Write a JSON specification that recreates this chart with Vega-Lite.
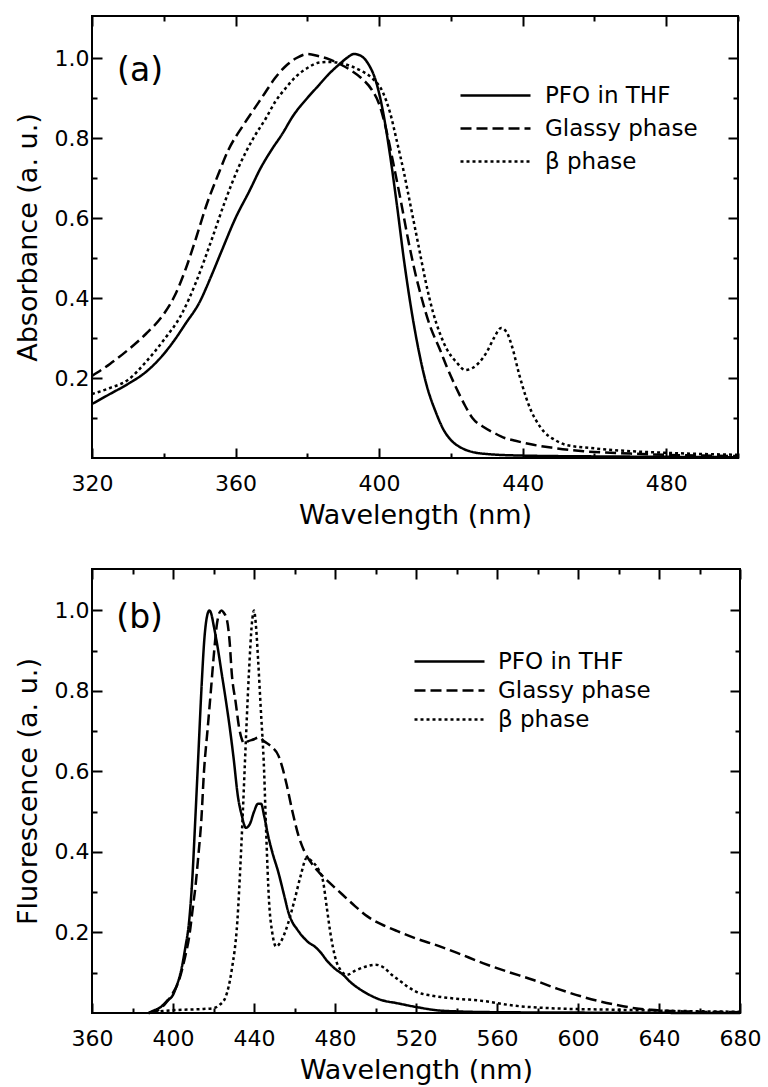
{
  "$schema": "https://vega.github.io/schema/vega-lite/v6.json",
  "padding": {"left": 13, "top": 14, "right": 5, "bottom": 2},
  "background": "white",
  "config": {
    "font": "DejaVu Sans",
    "view": {"stroke": "black", "strokeWidth": 2},
    "axis": {
      "domain": false, "grid": false, "zindex": 1,
      "labelFont": "DejaVu Sans", "labelFontSize": 22, "labelColor": "black",
      "titleFont": "DejaVu Sans", "titleFontSize": 27, "titleFontWeight": "normal", "titleColor": "black",
      "tickColor": "black", "tickWidth": 2, "tickSize": -10, "labelFlush": false, "labelOverlap": false
    },
    "legend": {
      "labelFont": "DejaVu Sans", "labelFontSize": 23, "labelColor": "black",
      "symbolType": "stroke", "symbolSize": 4900, "symbolStrokeWidth": 2.4, "symbolStrokeColor": "black",
      "clipHeight": 23
    }
  },
  "datasets": {
    "abs": [
      {"s":"PFO in THF","wl":320,"v":0.135},{"s":"PFO in THF","wl":325,"v":0.16},{"s":"PFO in THF","wl":330,"v":0.185},{"s":"PFO in THF","wl":335,"v":0.215},{"s":"PFO in THF","wl":340,"v":0.26},{"s":"PFO in THF","wl":343,"v":0.295},{"s":"PFO in THF","wl":346,"v":0.335},{"s":"PFO in THF","wl":350,"v":0.39},{"s":"PFO in THF","wl":353,"v":0.45},{"s":"PFO in THF","wl":356,"v":0.515},{"s":"PFO in THF","wl":360,"v":0.6},{"s":"PFO in THF","wl":364,"v":0.67},{"s":"PFO in THF","wl":367,"v":0.725},{"s":"PFO in THF","wl":370,"v":0.77},{"s":"PFO in THF","wl":373,"v":0.81},{"s":"PFO in THF","wl":376,"v":0.855},{"s":"PFO in THF","wl":380,"v":0.9},{"s":"PFO in THF","wl":383,"v":0.93},{"s":"PFO in THF","wl":386,"v":0.96},{"s":"PFO in THF","wl":389,"v":0.985},{"s":"PFO in THF","wl":391,"v":1.0},{"s":"PFO in THF","wl":393,"v":1.01},{"s":"PFO in THF","wl":395,"v":1.005},{"s":"PFO in THF","wl":397,"v":0.985},{"s":"PFO in THF","wl":399,"v":0.945},{"s":"PFO in THF","wl":401,"v":0.87},{"s":"PFO in THF","wl":403,"v":0.76},{"s":"PFO in THF","wl":405,"v":0.63},{"s":"PFO in THF","wl":407,"v":0.49},{"s":"PFO in THF","wl":409,"v":0.37},{"s":"PFO in THF","wl":411,"v":0.27},{"s":"PFO in THF","wl":413,"v":0.19},{"s":"PFO in THF","wl":416,"v":0.11},{"s":"PFO in THF","wl":418,"v":0.07},{"s":"PFO in THF","wl":420,"v":0.045},{"s":"PFO in THF","wl":423,"v":0.025},{"s":"PFO in THF","wl":426,"v":0.015},{"s":"PFO in THF","wl":430,"v":0.01},{"s":"PFO in THF","wl":440,"v":0.006},{"s":"PFO in THF","wl":460,"v":0.004},{"s":"PFO in THF","wl":480,"v":0.003},{"s":"PFO in THF","wl":500,"v":0.002},
      {"s":"Glassy phase","wl":320,"v":0.205},{"s":"Glassy phase","wl":325,"v":0.235},{"s":"Glassy phase","wl":330,"v":0.27},{"s":"Glassy phase","wl":335,"v":0.31},{"s":"Glassy phase","wl":340,"v":0.36},{"s":"Glassy phase","wl":343,"v":0.405},{"s":"Glassy phase","wl":346,"v":0.47},{"s":"Glassy phase","wl":349,"v":0.55},{"s":"Glassy phase","wl":352,"v":0.635},{"s":"Glassy phase","wl":355,"v":0.705},{"s":"Glassy phase","wl":358,"v":0.77},{"s":"Glassy phase","wl":362,"v":0.83},{"s":"Glassy phase","wl":365,"v":0.87},{"s":"Glassy phase","wl":368,"v":0.91},{"s":"Glassy phase","wl":371,"v":0.95},{"s":"Glassy phase","wl":374,"v":0.98},{"s":"Glassy phase","wl":377,"v":1.0},{"s":"Glassy phase","wl":380,"v":1.01},{"s":"Glassy phase","wl":383,"v":1.005},{"s":"Glassy phase","wl":386,"v":0.997},{"s":"Glassy phase","wl":389,"v":0.985},{"s":"Glassy phase","wl":392,"v":0.97},{"s":"Glassy phase","wl":395,"v":0.95},{"s":"Glassy phase","wl":398,"v":0.92},{"s":"Glassy phase","wl":400,"v":0.885},{"s":"Glassy phase","wl":402,"v":0.82},{"s":"Glassy phase","wl":404,"v":0.735},{"s":"Glassy phase","wl":406,"v":0.645},{"s":"Glassy phase","wl":408,"v":0.55},{"s":"Glassy phase","wl":410,"v":0.465},{"s":"Glassy phase","wl":412,"v":0.395},{"s":"Glassy phase","wl":414,"v":0.335},{"s":"Glassy phase","wl":417,"v":0.27},{"s":"Glassy phase","wl":419,"v":0.225},{"s":"Glassy phase","wl":421.5,"v":0.175},{"s":"Glassy phase","wl":424,"v":0.13},{"s":"Glassy phase","wl":426,"v":0.1},{"s":"Glassy phase","wl":429,"v":0.078},{"s":"Glassy phase","wl":432,"v":0.063},{"s":"Glassy phase","wl":435,"v":0.05},{"s":"Glassy phase","wl":438,"v":0.043},{"s":"Glassy phase","wl":443,"v":0.033},{"s":"Glassy phase","wl":448,"v":0.026},{"s":"Glassy phase","wl":457,"v":0.017},{"s":"Glassy phase","wl":470,"v":0.011},{"s":"Glassy phase","wl":480,"v":0.008},{"s":"Glassy phase","wl":490,"v":0.006},{"s":"Glassy phase","wl":500,"v":0.005},
      {"s":"β phase","wl":320,"v":0.16},{"s":"β phase","wl":325,"v":0.175},{"s":"β phase","wl":330,"v":0.195},{"s":"β phase","wl":335,"v":0.24},{"s":"β phase","wl":340,"v":0.295},{"s":"β phase","wl":345,"v":0.36},{"s":"β phase","wl":349,"v":0.44},{"s":"β phase","wl":353.5,"v":0.55},{"s":"β phase","wl":357,"v":0.64},{"s":"β phase","wl":361,"v":0.73},{"s":"β phase","wl":365,"v":0.8},{"s":"β phase","wl":368.5,"v":0.85},{"s":"β phase","wl":371,"v":0.89},{"s":"β phase","wl":374,"v":0.925},{"s":"β phase","wl":377,"v":0.955},{"s":"β phase","wl":380,"v":0.975},{"s":"β phase","wl":383,"v":0.988},{"s":"β phase","wl":386,"v":0.99},{"s":"β phase","wl":389,"v":0.988},{"s":"β phase","wl":392,"v":0.98},{"s":"β phase","wl":395,"v":0.968},{"s":"β phase","wl":398,"v":0.95},{"s":"β phase","wl":401,"v":0.915},{"s":"β phase","wl":403,"v":0.865},{"s":"β phase","wl":405,"v":0.79},{"s":"β phase","wl":407,"v":0.71},{"s":"β phase","wl":409,"v":0.62},{"s":"β phase","wl":411,"v":0.53},{"s":"β phase","wl":413,"v":0.44},{"s":"β phase","wl":415,"v":0.365},{"s":"β phase","wl":417,"v":0.31},{"s":"β phase","wl":419,"v":0.27},{"s":"β phase","wl":421.5,"v":0.24},{"s":"β phase","wl":424,"v":0.22},{"s":"β phase","wl":426,"v":0.225},{"s":"β phase","wl":428,"v":0.24},{"s":"β phase","wl":430,"v":0.265},{"s":"β phase","wl":432,"v":0.3},{"s":"β phase","wl":434,"v":0.325},{"s":"β phase","wl":435.5,"v":0.315},{"s":"β phase","wl":437,"v":0.28},{"s":"β phase","wl":439,"v":0.21},{"s":"β phase","wl":441,"v":0.15},{"s":"β phase","wl":442.5,"v":0.115},{"s":"β phase","wl":444,"v":0.09},{"s":"β phase","wl":446,"v":0.065},{"s":"β phase","wl":449,"v":0.045},{"s":"β phase","wl":452,"v":0.033},{"s":"β phase","wl":459,"v":0.025},{"s":"β phase","wl":470,"v":0.017},{"s":"β phase","wl":480,"v":0.013},{"s":"β phase","wl":490,"v":0.01},{"s":"β phase","wl":500,"v":0.008}
    ],
    "fluo": [
      {"s":"PFO in THF","wl":388,"v":0.0},{"s":"PFO in THF","wl":390,"v":0.005},{"s":"PFO in THF","wl":394,"v":0.015},{"s":"PFO in THF","wl":397,"v":0.03},{"s":"PFO in THF","wl":400,"v":0.045},{"s":"PFO in THF","wl":402,"v":0.07},{"s":"PFO in THF","wl":404,"v":0.105},{"s":"PFO in THF","wl":406,"v":0.16},{"s":"PFO in THF","wl":408,"v":0.23},{"s":"PFO in THF","wl":409.5,"v":0.33},{"s":"PFO in THF","wl":411,"v":0.48},{"s":"PFO in THF","wl":412.5,"v":0.64},{"s":"PFO in THF","wl":414,"v":0.8},{"s":"PFO in THF","wl":415.5,"v":0.93},{"s":"PFO in THF","wl":417,"v":0.99},{"s":"PFO in THF","wl":418,"v":1.0},{"s":"PFO in THF","wl":419,"v":0.99},{"s":"PFO in THF","wl":420,"v":0.965},{"s":"PFO in THF","wl":422,"v":0.91},{"s":"PFO in THF","wl":424,"v":0.845},{"s":"PFO in THF","wl":426,"v":0.78},{"s":"PFO in THF","wl":428,"v":0.71},{"s":"PFO in THF","wl":430,"v":0.63},{"s":"PFO in THF","wl":432,"v":0.54},{"s":"PFO in THF","wl":434,"v":0.49},{"s":"PFO in THF","wl":436,"v":0.46},{"s":"PFO in THF","wl":438,"v":0.47},{"s":"PFO in THF","wl":440,"v":0.5},{"s":"PFO in THF","wl":442,"v":0.52},{"s":"PFO in THF","wl":443.5,"v":0.52},{"s":"PFO in THF","wl":445,"v":0.49},{"s":"PFO in THF","wl":447,"v":0.44},{"s":"PFO in THF","wl":449,"v":0.4},{"s":"PFO in THF","wl":452,"v":0.35},{"s":"PFO in THF","wl":455,"v":0.29},{"s":"PFO in THF","wl":457,"v":0.25},{"s":"PFO in THF","wl":459,"v":0.225},{"s":"PFO in THF","wl":461,"v":0.21},{"s":"PFO in THF","wl":464,"v":0.19},{"s":"PFO in THF","wl":467,"v":0.175},{"s":"PFO in THF","wl":470,"v":0.165},{"s":"PFO in THF","wl":473,"v":0.15},{"s":"PFO in THF","wl":476,"v":0.13},{"s":"PFO in THF","wl":480,"v":0.11},{"s":"PFO in THF","wl":484,"v":0.095},{"s":"PFO in THF","wl":488,"v":0.075},{"s":"PFO in THF","wl":492,"v":0.06},{"s":"PFO in THF","wl":497,"v":0.045},{"s":"PFO in THF","wl":503,"v":0.032},{"s":"PFO in THF","wl":510,"v":0.025},{"s":"PFO in THF","wl":520,"v":0.015},{"s":"PFO in THF","wl":530,"v":0.007},{"s":"PFO in THF","wl":540,"v":0.004},{"s":"PFO in THF","wl":560,"v":0.002},{"s":"PFO in THF","wl":600,"v":0.001},{"s":"PFO in THF","wl":680,"v":0.0},
      {"s":"Glassy phase","wl":388,"v":0.0},{"s":"Glassy phase","wl":392,"v":0.005},{"s":"Glassy phase","wl":396.5,"v":0.025},{"s":"Glassy phase","wl":400,"v":0.05},{"s":"Glassy phase","wl":403,"v":0.082},{"s":"Glassy phase","wl":406,"v":0.14},{"s":"Glassy phase","wl":408,"v":0.19},{"s":"Glassy phase","wl":410,"v":0.27},{"s":"Glassy phase","wl":411,"v":0.31},{"s":"Glassy phase","wl":412.5,"v":0.39},{"s":"Glassy phase","wl":414,"v":0.48},{"s":"Glassy phase","wl":415.3,"v":0.6},{"s":"Glassy phase","wl":417,"v":0.7},{"s":"Glassy phase","wl":418.7,"v":0.8},{"s":"Glassy phase","wl":420,"v":0.88},{"s":"Glassy phase","wl":421.8,"v":0.97},{"s":"Glassy phase","wl":423,"v":0.995},{"s":"Glassy phase","wl":424,"v":1.0},{"s":"Glassy phase","wl":425,"v":0.995},{"s":"Glassy phase","wl":426.7,"v":0.975},{"s":"Glassy phase","wl":428,"v":0.92},{"s":"Glassy phase","wl":429,"v":0.845},{"s":"Glassy phase","wl":431,"v":0.77},{"s":"Glassy phase","wl":432.6,"v":0.71},{"s":"Glassy phase","wl":434,"v":0.68},{"s":"Glassy phase","wl":435,"v":0.67},{"s":"Glassy phase","wl":437,"v":0.675},{"s":"Glassy phase","wl":440,"v":0.68},{"s":"Glassy phase","wl":442.5,"v":0.685},{"s":"Glassy phase","wl":445,"v":0.675},{"s":"Glassy phase","wl":449,"v":0.66},{"s":"Glassy phase","wl":452,"v":0.64},{"s":"Glassy phase","wl":454,"v":0.61},{"s":"Glassy phase","wl":456,"v":0.57},{"s":"Glassy phase","wl":459,"v":0.5},{"s":"Glassy phase","wl":462,"v":0.44},{"s":"Glassy phase","wl":465,"v":0.4},{"s":"Glassy phase","wl":468,"v":0.375},{"s":"Glassy phase","wl":472,"v":0.35},{"s":"Glassy phase","wl":477,"v":0.325},{"s":"Glassy phase","wl":483.5,"v":0.295},{"s":"Glassy phase","wl":490,"v":0.265},{"s":"Glassy phase","wl":496,"v":0.24},{"s":"Glassy phase","wl":503,"v":0.22},{"s":"Glassy phase","wl":510,"v":0.205},{"s":"Glassy phase","wl":520,"v":0.185},{"s":"Glassy phase","wl":528,"v":0.172},{"s":"Glassy phase","wl":540,"v":0.15},{"s":"Glassy phase","wl":553,"v":0.124},{"s":"Glassy phase","wl":565,"v":0.103},{"s":"Glassy phase","wl":578,"v":0.082},{"s":"Glassy phase","wl":590,"v":0.06},{"s":"Glassy phase","wl":602.5,"v":0.04},{"s":"Glassy phase","wl":610,"v":0.03},{"s":"Glassy phase","wl":619,"v":0.02},{"s":"Glassy phase","wl":628,"v":0.012},{"s":"Glassy phase","wl":636,"v":0.008},{"s":"Glassy phase","wl":652,"v":0.004},{"s":"Glassy phase","wl":680,"v":0.002},
      {"s":"β phase","wl":388,"v":0.0},{"s":"β phase","wl":395,"v":0.005},{"s":"β phase","wl":405,"v":0.008},{"s":"β phase","wl":415,"v":0.01},{"s":"β phase","wl":420,"v":0.012},{"s":"β phase","wl":423,"v":0.02},{"s":"β phase","wl":426,"v":0.04},{"s":"β phase","wl":429,"v":0.107},{"s":"β phase","wl":431.8,"v":0.23},{"s":"β phase","wl":433.6,"v":0.4},{"s":"β phase","wl":434.5,"v":0.5},{"s":"β phase","wl":435.5,"v":0.62},{"s":"β phase","wl":437.5,"v":0.845},{"s":"β phase","wl":439,"v":0.97},{"s":"β phase","wl":440,"v":1.0},{"s":"β phase","wl":441,"v":0.96},{"s":"β phase","wl":442,"v":0.88},{"s":"β phase","wl":443.3,"v":0.76},{"s":"β phase","wl":445,"v":0.6},{"s":"β phase","wl":446,"v":0.45},{"s":"β phase","wl":447.4,"v":0.28},{"s":"β phase","wl":449,"v":0.2},{"s":"β phase","wl":451,"v":0.165},{"s":"β phase","wl":453,"v":0.175},{"s":"β phase","wl":456,"v":0.21},{"s":"β phase","wl":460,"v":0.28},{"s":"β phase","wl":463,"v":0.34},{"s":"β phase","wl":466,"v":0.385},{"s":"β phase","wl":469,"v":0.375},{"s":"β phase","wl":472,"v":0.355},{"s":"β phase","wl":474,"v":0.33},{"s":"β phase","wl":476,"v":0.26},{"s":"β phase","wl":478,"v":0.19},{"s":"β phase","wl":480,"v":0.14},{"s":"β phase","wl":483,"v":0.105},{"s":"β phase","wl":486,"v":0.095},{"s":"β phase","wl":490,"v":0.105},{"s":"β phase","wl":495,"v":0.115},{"s":"β phase","wl":500,"v":0.12},{"s":"β phase","wl":504,"v":0.113},{"s":"β phase","wl":508,"v":0.095},{"s":"β phase","wl":512,"v":0.08},{"s":"β phase","wl":516,"v":0.065},{"s":"β phase","wl":520,"v":0.053},{"s":"β phase","wl":528,"v":0.043},{"s":"β phase","wl":537,"v":0.037},{"s":"β phase","wl":553,"v":0.03},{"s":"β phase","wl":569,"v":0.018},{"s":"β phase","wl":586,"v":0.012},{"s":"β phase","wl":620,"v":0.008},{"s":"β phase","wl":650,"v":0.005},{"s":"β phase","wl":680,"v":0.003}
    ]
  },
  "spacing": 38,
  "resolve": {"scale": {"strokeDash": "independent"}, "legend": {"strokeDash": "independent"}},
  "vconcat": [
    {
      "width": 646, "height": 442,
      "data": {"name": "abs"},
      "resolve": {"scale": {"x": "independent", "y": "independent"}, "axis": {"x": "independent", "y": "independent"}},
      "layer": [
        {
          "mark": {"type": "line", "interpolate": "monotone", "strokeWidth": 2.5, "color": "black"},
          "encoding": {
            "x": {"field": "wl", "type": "quantitative",
              "scale": {"domain": [320, 500], "nice": false, "zero": false},
              "axis": {"title": "Wavelength (nm)", "orient": "bottom",
                "values": [320,340,360,380,400,420,440,460,480,500],
                "labelExpr": "datum.value % 40 === 0 ? datum.label : ''",
                "tickDash": {"condition": {"test": "datum.value % 40 === 0", "value": [10, 0]}, "value": [5, 20]},
                "labelPadding": 25, "titlePadding": 8}},
            "y": {"field": "v", "type": "quantitative",
              "scale": {"domain": [0, 1.105], "nice": false, "zero": false},
              "axis": {"title": "Absorbance (a. u.)", "orient": "left",
                "values": [0.1,0.2,0.3,0.4,0.5,0.6,0.7,0.8,0.9,1.0],
                "labelExpr": "round(datum.value*10) % 2 === 0 ? format(datum.value, '.1f') : ''",
                "tickDash": {"condition": {"test": "round(datum.value*10) % 2 === 0", "value": [10, 0]}, "value": [5, 20]},
                "labelPadding": 13, "titlePadding": 12}},
            "strokeDash": {"field": "s", "type": "nominal",
              "scale": {"domain": ["PFO in THF", "Glassy phase", "β phase"], "range": [[1, 0], [11, 5], [3, 3]]},
              "legend": {"orient": "none", "legendX": 367, "legendY": 68, "title": null,
                "labelOffset": 13, "rowPadding": 9}}
          }
        },
        {
          "data": {"values": [{}]},
          "mark": {"type": "text", "text": "(a)", "fontSize": 33, "font": "DejaVu Sans", "align": "left", "baseline": "middle", "color": "black"},
          "encoding": {
            "x": {"datum": 327, "type": "quantitative", "scale": {"domain": [320, 500], "nice": false, "zero": false}, "axis": null},
            "y": {"datum": 0.9675, "type": "quantitative", "scale": {"domain": [0, 1.105], "nice": false, "zero": false}, "axis": null}
          }
        },
        {
          "mark": {"type": "line", "strokeOpacity": 0},
          "encoding": {
            "x": {"field": "wl", "type": "quantitative",
              "scale": {"domain": [320, 500], "nice": false, "zero": false},
              "axis": {"orient": "top", "title": null, "labels": false,
                "values": [320,340,360,380,400,420,440,460,480,500],
                "tickDash": {"condition": {"test": "datum.value % 40 === 0", "value": [10, 0]}, "value": [5, 20]}}},
            "y": {"field": "v", "type": "quantitative",
              "scale": {"domain": [0, 1.105], "nice": false, "zero": false},
              "axis": {"orient": "right", "title": null, "labels": false,
                "values": [0.1,0.2,0.3,0.4,0.5,0.6,0.7,0.8,0.9,1.0],
                "tickDash": {"condition": {"test": "round(datum.value*10) % 2 === 0", "value": [10, 0]}, "value": [5, 20]}}},
            "detail": {"field": "s", "type": "nominal"}
          }
        }
      ]
    },
    {
      "width": 648, "height": 444,
      "data": {"name": "fluo"},
      "resolve": {"scale": {"x": "independent", "y": "independent"}, "axis": {"x": "independent", "y": "independent"}},
      "layer": [
        {
          "mark": {"type": "line", "interpolate": "monotone", "strokeWidth": 2.5, "color": "black"},
          "encoding": {
            "x": {"field": "wl", "type": "quantitative",
              "scale": {"domain": [360, 680], "nice": false, "zero": false},
              "axis": {"title": "Wavelength (nm)", "orient": "bottom",
                "values": [360,380,400,420,440,460,480,500,520,540,560,580,600,620,640,660,680],
                "labelExpr": "datum.value % 40 === 0 ? datum.label : ''",
                "tickDash": {"condition": {"test": "datum.value % 40 === 0", "value": [10, 0]}, "value": [5, 20]},
                "labelPadding": 25, "titlePadding": 8}},
            "y": {"field": "v", "type": "quantitative",
              "scale": {"domain": [0, 1.103], "nice": false, "zero": false},
              "axis": {"title": "Fluorescence (a. u.)", "orient": "left",
                "values": [0.1,0.2,0.3,0.4,0.5,0.6,0.7,0.8,0.9,1.0],
                "labelExpr": "round(datum.value*10) % 2 === 0 ? format(datum.value, '.1f') : ''",
                "tickDash": {"condition": {"test": "round(datum.value*10) % 2 === 0", "value": [10, 0]}, "value": [5, 20]},
                "labelPadding": 13, "titlePadding": 12}},
            "strokeDash": {"field": "s", "type": "nominal",
              "scale": {"domain": ["PFO in THF", "Glassy phase", "β phase"], "range": [[1, 0], [11, 5], [3, 3]]},
              "legend": {"orient": "none", "legendX": 321, "legendY": 81, "title": null,
                "labelOffset": 12, "rowPadding": 5}}
          }
        },
        {
          "data": {"values": [{}]},
          "mark": {"type": "text", "text": "(b)", "fontSize": 33, "font": "DejaVu Sans", "align": "left", "baseline": "middle", "color": "black"},
          "encoding": {
            "x": {"datum": 372, "type": "quantitative", "scale": {"domain": [360, 680], "nice": false, "zero": false}, "axis": null},
            "y": {"datum": 0.981, "type": "quantitative", "scale": {"domain": [0, 1.103], "nice": false, "zero": false}, "axis": null}
          }
        },
        {
          "mark": {"type": "line", "strokeOpacity": 0},
          "encoding": {
            "x": {"field": "wl", "type": "quantitative",
              "scale": {"domain": [360, 680], "nice": false, "zero": false},
              "axis": {"orient": "top", "title": null, "labels": false,
                "values": [360,380,400,420,440,460,480,500,520,540,560,580,600,620,640,660,680],
                "tickDash": {"condition": {"test": "datum.value % 40 === 0", "value": [10, 0]}, "value": [5, 20]}}},
            "y": {"field": "v", "type": "quantitative",
              "scale": {"domain": [0, 1.103], "nice": false, "zero": false},
              "axis": {"orient": "right", "title": null, "labels": false,
                "values": [0.1,0.2,0.3,0.4,0.5,0.6,0.7,0.8,0.9,1.0],
                "tickDash": {"condition": {"test": "round(datum.value*10) % 2 === 0", "value": [10, 0]}, "value": [5, 20]}}},
            "detail": {"field": "s", "type": "nominal"}
          }
        }
      ]
    }
  ]
}
